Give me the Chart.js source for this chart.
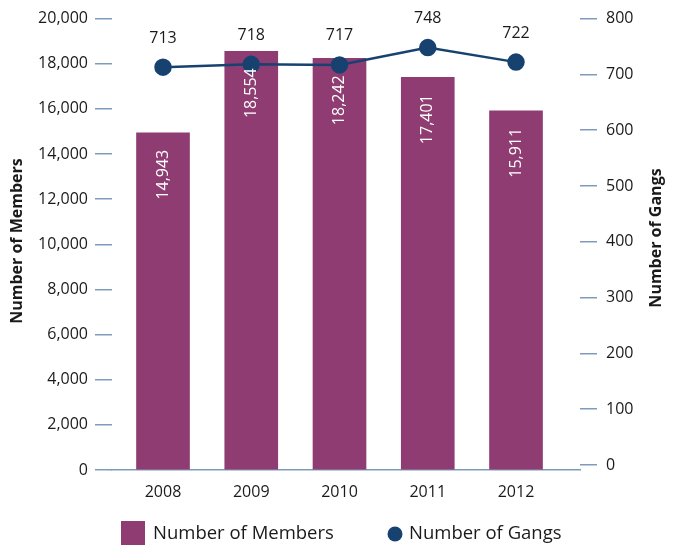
<!DOCTYPE html>
<html>
<head>
<meta charset="utf-8">
<script src="https://cdn.jsdelivr.net/npm/chart.js@4/dist/chart.umd.min.js"></script>
<style>
  body { margin: 0; background: #fff; }
  canvas { display: block; }
</style>
</head>
<body>
<canvas id="gangChart" width="678" height="549"></canvas>
<script>
// data
const years = ["2008", "2009", "2010", "2011", "2012"];
const members = [14943, 18554, 18242, 17401, 15911];
const gangs = [713, 718, 717, 748, 722];
const memberTicks = [0, 2000, 4000, 6000, 8000, 10000, 12000, 14000, 16000, 18000, 20000];
const gangTicks = [0, 100, 200, 300, 400, 500, 600, 700, 800];

const barColor = "#8e3c72";
const lineColor = "#17426f";
const axisColor = "#7f9bbb";
const textColor = "#1a1a1a";
const fontFamily = "'Open Sans', sans-serif";

// value labels, axis titles and legend drawn by hand
const labelsPlugin = {
    id: "labels",
    afterDatasetsDraw(chart) {
        const ctx = chart.ctx;
        ctx.save();
        ctx.font = "16px " + fontFamily;

        chart.getDatasetMeta(1).data.forEach((el, i) => {
            ctx.save();
            ctx.translate(el.x, el.y + 17);
            ctx.rotate(-Math.PI / 2);
            ctx.fillStyle = "#ffffff";
            ctx.textAlign = "right";
            ctx.textBaseline = "middle";
            ctx.fillText(members[i].toLocaleString("en-US"), 0, 0);
            ctx.restore();
        });

        ctx.fillStyle = textColor;
        ctx.textAlign = "center";
        ctx.textBaseline = "middle";
        chart.getDatasetMeta(0).data.forEach((el, i) => {
            ctx.fillText(String(gangs[i]), el.x, el.y - 29);
        });
        ctx.restore();
    },
    afterDraw(chart) {
        const ctx = chart.ctx;
        ctx.save();
        ctx.fillStyle = textColor;
        ctx.font = "bold 16px " + fontFamily;
        ctx.textAlign = "center";
        ctx.textBaseline = "middle";

        ctx.save();
        ctx.translate(17, 241);
        ctx.rotate(-Math.PI / 2);
        ctx.fillText("Number of Members", 0, 0);
        ctx.restore();

        ctx.save();
        ctx.translate(656, 238);
        ctx.rotate(-Math.PI / 2);
        ctx.fillText("Number of Gangs", 0, 0);
        ctx.restore();

        // legend
        ctx.font = "18.5px " + fontFamily;
        ctx.textAlign = "left";
        ctx.fillStyle = barColor;
        ctx.fillRect(121, 521, 24, 24);
        ctx.fillStyle = textColor;
        ctx.fillText("Number of Members", 153, 534);

        ctx.fillStyle = lineColor;
        ctx.beginPath();
        ctx.arc(395, 534, 7.5, 0, Math.PI * 2);
        ctx.fill();
        ctx.fillStyle = textColor;
        ctx.fillText("Number of Gangs", 409, 534);
        ctx.restore();
    }
};

new Chart(document.getElementById("gangChart"), {
    type: "bar",
    data: {
        datasets: [
            {
                type: "line",
                label: "Number of Gangs",
                data: gangs.map((v, i) => ({ x: i, y: v })),
                yAxisID: "y1",
                borderColor: lineColor,
                backgroundColor: lineColor,
                borderWidth: 2.5,
                pointRadius: 7.5,
                pointHoverRadius: 7.5,
                tension: 0,
                order: 0,
            },
            {
                type: "bar",
                label: "Number of Members",
                data: members.map((v, i) => ({ x: i, y: v })),
                yAxisID: "y",
                backgroundColor: barColor,
                barThickness: 53,
                order: 1,
            },
        ],
    },
    options: {
        responsive: false,
        animation: false,
        layout: { padding: { top: 17, left: 0, right: 0, bottom: 0 } },
        plugins: {
            legend: { display: false },
            tooltip: { enabled: false },
        },
        scales: {
            x: {
                type: "linear",
                offset: false,
                min: -0.578,
                max: 4.725,
                afterBuildTicks: s => { s.ticks = years.map((y, i) => ({ value: i })); },
                afterFit: s => { s.height = 79; },
                grid: { display: false, offset: false },
                border: { display: true, color: axisColor, width: 1.5 },
                ticks: {
                    callback: v => years[v],
                    color: textColor,
                    font: { family: fontFamily, size: 16 },
                    padding: 5,
                    maxRotation: 0,
                },
            },
            y: {
                position: "left",
                min: 0,
                max: 20000,
                afterBuildTicks: s => { s.ticks = memberTicks.map(v => ({ value: v })); },
                afterFit: s => { s.width = 112; },
                grid: { drawOnChartArea: false, drawTicks: true, tickLength: 17, color: axisColor, lineWidth: 1.5 },
                border: { display: false },
                ticks: {
                    callback: v => v.toLocaleString("en-US"),
                    color: textColor,
                    font: { family: fontFamily, size: 16 },
                    padding: 7,
                },
            },
            y1: {
                position: "right",
                min: -9,
                max: 800,
                afterBuildTicks: s => { s.ticks = gangTicks.map(v => ({ value: v })); },
                afterFit: s => { s.width = 98; },
                grid: { drawOnChartArea: false, drawTicks: true, tickLength: 17, color: axisColor, lineWidth: 1.5 },
                border: { display: false },
                ticks: {
                    color: textColor,
                    font: { family: fontFamily, size: 16 },
                    padding: 9,
                },
            },
        },
    },
    plugins: [labelsPlugin],
});
</script>
</body>
</html>
